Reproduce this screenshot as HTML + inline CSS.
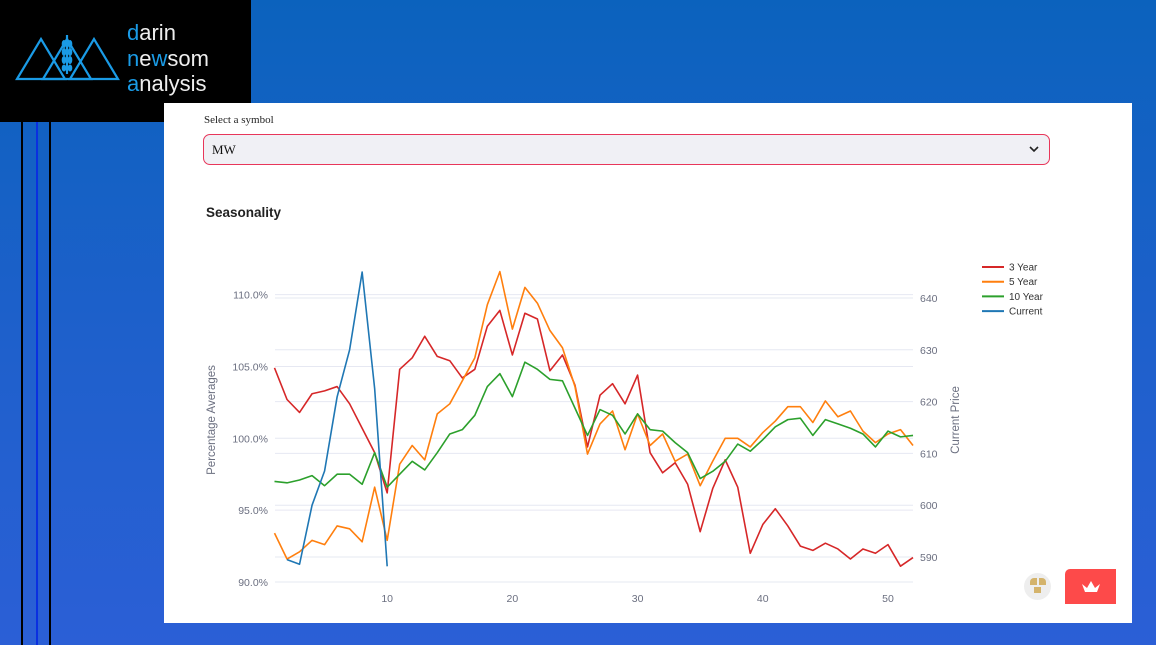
<!DOCTYPE html>
<html><head><meta charset="utf-8"><style>
*{margin:0;padding:0;box-sizing:border-box}
body{width:1156px;height:645px;overflow:hidden;position:relative;background:linear-gradient(180deg,#0b62bd 0%,#1f60cc 55%,#2b5fd6 100%);font-family:"Liberation Sans",sans-serif}
.abs{position:absolute}
</style></head><body>
<div class="abs" style="left:0;top:0;width:251px;height:122px;background:#000">
<svg width="251" height="122">
<g fill="none" stroke="#1a9be6" stroke-width="2.2">
<path d="M17 79 L41 39 L65 79 Z"/><path d="M43 79 L67 39 L91 79 Z"/><path d="M70 79 L94 39 L118 79 Z"/>
<line x1="67" y1="35" x2="67" y2="74"/>
</g>
<g fill="#1a9be6"><ellipse cx="64" cy="44" rx="2.3" ry="4"/><ellipse cx="70" cy="44" rx="2.3" ry="4"/><ellipse cx="64" cy="52" rx="2.3" ry="4"/><ellipse cx="70" cy="52" rx="2.3" ry="4"/><ellipse cx="64" cy="60" rx="2.3" ry="4"/><ellipse cx="70" cy="60" rx="2.3" ry="4"/><ellipse cx="64" cy="68" rx="2.3" ry="3.5"/><ellipse cx="70" cy="68" rx="2.3" ry="3.5"/></g>
</svg>
<div class="abs" style="left:127px;top:20px;color:#eee;font-size:22px;line-height:25.5px">
<div><span style="color:#1a9be6">d</span>arin</div><div><span style="color:#1a9be6">n</span>e<span style="color:#1a9be6">w</span>som</div><div><span style="color:#1a9be6">a</span>nalysis</div></div>
</div>
<div class="abs" style="left:21px;top:122px;width:2px;height:523px;background:#000"></div>
<div class="abs" style="left:36px;top:122px;width:2px;height:523px;background:#0a2fe0"></div>
<div class="abs" style="left:49px;top:122px;width:2px;height:523px;background:#000"></div>

<div class="abs" style="left:164px;top:103px;width:968px;height:520px;background:#fff"></div>
<div class="abs" style="left:204px;top:114px;font-family:'Liberation Serif',serif;font-size:11px;color:#222">Select a symbol</div>
<div class="abs" style="left:203px;top:134px;width:847px;height:31px;border:1px solid #e8365a;border-radius:7px;background:#f0f0f5;font-family:'Liberation Serif',serif;font-size:13px;color:#111;padding:7px 8px">MW
<svg class="abs" style="right:10px;top:10px" width="10" height="8"><path d="M1 2 L5 6 L9 2" fill="none" stroke="#222" stroke-width="1.6"/></svg></div>
<div class="abs" style="left:206px;top:205px;font-size:13.5px;font-weight:bold;color:#222">Seasonality</div>

<svg class="abs" id="chart" style="left:0;top:0" width="1156" height="645"></svg>

<div class="abs" style="left:1024px;top:573px;width:27px;height:27px;border-radius:50%;background:#eee">
<div class="abs" style="left:6px;top:5px;width:7px;height:7px;background:#d4b36b;border-radius:4px 0 0 0"></div>
<div class="abs" style="left:15px;top:5px;width:7px;height:7px;background:#d4b36b;border-radius:0 4px 0 0"></div>
<div class="abs" style="left:10px;top:14px;width:7px;height:6px;background:#d4b36b"></div></div>
<div class="abs" style="left:1065px;top:569px;width:51px;height:35px;background:#fd4a4a;border-radius:5px 0 0 0">
<svg class="abs" style="left:16px;top:11px" width="20" height="13"><path d="M1 4 L6 8 L10 1 L14 8 L19 4 L16 12 L4 12 Z" fill="#fff"/></svg></div>

<script>
const weeks=[];for(let i=1;i<=52;i++)weeks.push(i);
const threeYear=[104.9,102.7,101.8,103.1,103.3,103.6,102.4,100.7,99.0,96.2,104.8,105.6,107.1,105.7,105.4,104.2,104.8,107.8,108.9,105.8,108.7,108.3,104.7,105.8,103.7,99.4,103.0,103.8,102.4,104.4,99.0,97.6,98.3,96.8,93.5,96.5,98.5,96.6,92.0,94.0,95.1,93.9,92.5,92.2,92.7,92.3,91.6,92.3,92.0,92.6,91.1,91.7];
const fiveYear=[93.4,91.6,92.1,92.9,92.6,93.9,93.7,92.8,96.6,92.9,98.2,99.5,98.5,101.7,102.4,104.0,105.6,109.3,111.6,107.6,110.5,109.4,107.5,106.3,103.6,98.9,101.0,101.9,99.2,101.7,99.5,100.3,98.4,98.9,96.7,98.4,100.0,100.0,99.4,100.4,101.2,102.2,102.2,101.1,102.6,101.5,101.9,100.5,99.7,100.3,100.6,99.5];
const tenYear=[97.0,96.9,97.1,97.4,96.7,97.5,97.5,96.8,99.0,96.6,97.5,98.4,97.8,99.0,100.3,100.6,101.6,103.6,104.5,102.9,105.3,104.8,104.1,104.0,102.1,100.2,102.0,101.6,100.3,101.7,100.6,100.5,99.7,99.0,97.2,97.7,98.4,99.6,99.1,99.9,100.8,101.3,101.4,100.2,101.3,101.0,100.7,100.3,99.4,100.5,100.1,100.2];
const currentWeeks=[2,3,4,5,6,7,8,9,10];
const currentPrice=[589.5,588.6,600.0,606.6,620.9,630.0,645.0,622.5,588.2];
const xTicks=[10,20,30,40,50];
const leftTicks=[90,95,100,105,110];
const rightTicks=[590,600,610,620,630,640];
const legendLabels=['3 Year','5 Year','10 Year','Current'];
const colors=['#d62728','#ff7f0e','#2ca02c','#1f77b4'];

const X=w=>274.5+(w-1)*12.52;
const YL=v=>438.3-(v-100)*14.37;
const YR=v=>298-(v-640)*5.18;
const svg=document.getElementById('chart');
const NS='http://www.w3.org/2000/svg';
function mk(t,a){const e=document.createElementNS(NS,t);for(const k in a)e.setAttribute(k,a[k]);svg.appendChild(e);return e;}
const L=275,R=913;
leftTicks.forEach(v=>{const g=mk('line',{x1:L,x2:R,y1:YL(v),y2:YL(v),stroke:'#e6e8f2','stroke-width':1});


const t=mk('text',{x:268,y:YL(v)+4,'text-anchor':'end','font-size':10.5,fill:'#6b6f80','font-family':'Liberation Sans, sans-serif'});t.textContent=v.toFixed(1)+'%';

});
rightTicks.forEach(v=>{const g=mk('line',{x1:L,x2:R,y1:YR(v),y2:YR(v),stroke:'#e6e8f2','stroke-width':1});


const t=mk('text',{x:920,y:YR(v)+4,'font-size':10.5,fill:'#6b6f80','font-family':'Liberation Sans, sans-serif'});t.textContent=v;

});
xTicks.forEach(v=>{const t=mk('text',{x:X(v),y:602,'text-anchor':'middle','font-size':10.5,fill:'#6b6f80','font-family':'Liberation Sans, sans-serif'});t.textContent=v;

});
let t1=mk('text',{x:0,y:0,transform:'translate(215,420) rotate(-90)','text-anchor':'middle','font-size':11.5,fill:'#6b6f80','font-family':'Liberation Sans, sans-serif'});t1.textContent='Percentage Averages';


let t2=mk('text',{x:0,y:0,transform:'translate(959,420) rotate(-90)','text-anchor':'middle','font-size':11.5,fill:'#6b6f80','font-family':'Liberation Sans, sans-serif'});t2.textContent='Current Price';


function line(xs,ys,fy,c,name){const p=mk('polyline',{points:xs.map((w,i)=>X(w)+','+fy(ys[i])).join(' '),fill:'none',stroke:c,'stroke-width':1.6,'stroke-linejoin':'round'});

}
line(weeks,threeYear,YL,colors[0],'line-3-year');
line(weeks,fiveYear,YL,colors[1],'line-5-year');
line(weeks,tenYear,YL,colors[2],'line-10-year');
line(currentWeeks,currentPrice,YR,colors[3],'line-current');
legendLabels.forEach((s,i)=>{const y=267+i*14.7;
const l=mk('line',{x1:982,x2:1004,y1:y,y2:y,stroke:colors[i],'stroke-width':2});


const t=mk('text',{x:1009,y:y+3.5,'font-size':10,fill:'#333','font-family':'Liberation Sans, sans-serif'});t.textContent=s;

});
</script>
</body></html>
